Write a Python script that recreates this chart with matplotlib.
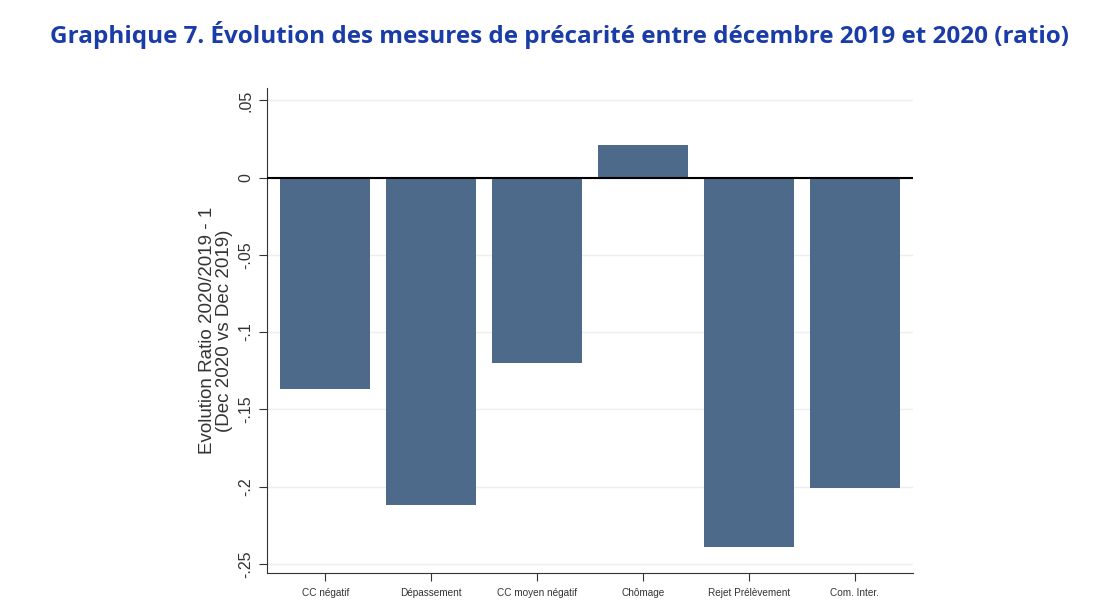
import matplotlib
matplotlib.use("Agg")
import matplotlib.pyplot as plt
import numpy as np

categories = ["CC négatif", "Dépassement", "CC moyen négatif", "Chômage",
              "Rejet Prélèvement", "Com. Inter."]
values = [-0.137, -0.212, -0.120, 0.021, -0.239, -0.201]
yticks = [0.05, 0, -0.05, -0.1, -0.15, -0.2, -0.25]
ytick_labels = [".05", "0", "-.05", "-.1", "-.15", "-.2", "-.25"]

fig = plt.figure(figsize=(11.2, 6.12), dpi=100)
ax = fig.add_axes([0.2384, 0.0637, 0.5768, 0.7923])

x = np.arange(len(categories))
ax.bar(x, values, width=0.85, color="#4d6a8a", zorder=2)
ax.axhline(0, color="black", lw=1.5, zorder=3)

ax.set_xlim(-0.55, 5.55)
ax.set_ylim(-0.256, 0.058)
ax.set_yticks(yticks)
ax.set_yticklabels(ytick_labels, rotation=90, va="center",
                   family="Liberation Sans", fontsize=11.5, color="#333333")
ax.set_xticks(x)
ax.set_xticklabels(categories, family="Liberation Sans", fontsize=7.2, color="#333333")
ax.yaxis.grid(True, color="#eeeeee", lw=1, zorder=0)
ax.tick_params(axis="both", direction="out", length=6, color="#333333")
ax.tick_params(axis="y", pad=4)
ax.tick_params(axis="x", pad=5)

for s in ["top", "right"]:
    ax.spines[s].set_visible(False)
for s in ["left", "bottom"]:
    ax.spines[s].set_color("#333333")

ax.set_ylabel("Evolution Ratio 2020/2019 - 1\n(Dec 2020 vs Dec 2019)",
              family="Liberation Sans", fontsize=13.5, color="#333333",
              linespacing=1.0, labelpad=4)

fig.text(0.5, 0.943, "Graphique 7. Évolution des mesures de précarité entre décembre 2019 et 2020 (ratio)",
         ha="center", va="center", family="Open Sans", fontweight="bold",
         fontsize=17.5, color="#1a3ca8")

fig.savefig("out.png", dpi=100)
